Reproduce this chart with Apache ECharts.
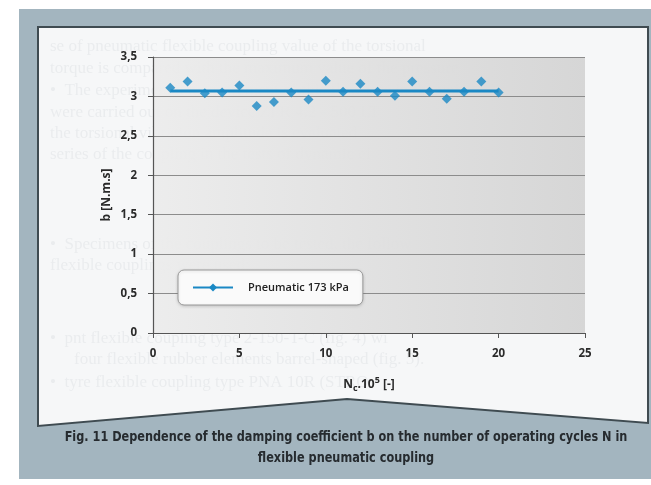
<!DOCTYPE html>
<html>
<head>
<meta charset="utf-8">
<script src="https://cdn.jsdelivr.net/npm/echarts@6/dist/echarts.min.js"></script>
<style>
  html, body { margin: 0; padding: 0; background: #ffffff; }
  #chart { width: 651px; height: 485px; }
</style>
</head>
<body>
<div id="chart"></div>
<script>
// Damping coefficient b measured against the number of operating cycles
const cycles = [1, 2, 3, 4, 5, 6, 7, 8, 9, 10, 11, 12, 13, 14, 15, 16, 17, 18, 19, 20];
const damping = [3.11, 3.19, 3.04, 3.05, 3.14, 2.88, 2.93, 3.05, 2.96, 3.20,
                 3.06, 3.16, 3.06, 3.01, 3.19, 3.06, 2.97, 3.06, 3.19, 3.05];
// Level of the fitted (flat) trend line
const trendLevel = 3.07;
const trendRange = [1, 20];
const seriesName = 'Pneumatic 173 kPa';
const yTicks = ['0', '0,5', '1', '1,5', '2', '2,5', '3', '3,5'];
const captionLines = [
  'Fig. 11 Dependence of the damping coefficient b on the number of operating cycles N in',
  'flexible pneumatic coupling'
];
// Body text of the printed page showing faintly through the figure panel
const pageLines = [
  [50, 47, 'se of pneumatic flexible coupling value of the torsional'],
  [50, 69, 'torque is compared with the maximum value of the pressure'],
  [50, 91, '•  The experimental measurement of this flow rate in the unit'],
  [50, 113, 'were carried out on the device ZFR 4.2 - 500 LT'],
  [50, 134, 'the torsional vibration amplitude is evaluated'],
  [50, 155, 'series of the coupling in the tests of dynamic ef'],
  [50, 245, '•  Specimens of the couplings to be tested, the follow'],
  [50, 266, 'flexible couplings were used:'],
  [50, 339, '•  pnt flexible coupling type 2-150-T-C (fig. 4) wi'],
  [74, 360, 'four flexible rubber elements barrel-shaped (fig. 5).'],
  [50, 383, '•  tyre flexible coupling type PNA 10R (STRO']
];

const chart = echarts.init(document.getElementById('chart'), null, { renderer: 'canvas' });

const uiFont = '"Open Sans", "Noto Sans", sans-serif';
const tickFont = {
  color: '#2a2a2a',
  fontFamily: uiFont,
  fontWeight: 'bold',
  fontSize: 11.5
};

const graphics = [
  // blue-grey mount of the figure
  { type: 'rect', z: -10, shape: { x: 19, y: 9, width: 640, height: 470 },
    style: { fill: '#a3b5bf' } },
  // white panel with chevron bottom edge
  { type: 'polygon', z: -9,
    shape: { points: [[38, 27], [648, 27], [648, 423], [347, 399], [38, 426]] },
    style: { fill: '#f6f7f8', stroke: '#3f4b51', lineWidth: 2 } }
];
pageLines.forEach(function (l) {
  graphics.push({ type: 'text', z: -8, x: l[0], y: l[1],
    style: { text: l[2], fill: 'rgba(120,130,145,0.09)', font: '17px "Liberation Serif", serif',
             textVerticalAlign: 'middle' } });
});
captionLines.forEach(function (t, i) {
  graphics.push({ type: 'text', z: 5, x: 346, y: 437 + i * 21, scaleX: 0.866,
    style: { text: t, fill: '#262b2f', textAlign: 'center', textVerticalAlign: 'middle',
             font: 'bold 14.5px "DejaVu Sans Condensed", "Liberation Sans Narrow", sans-serif' } });
});

chart.setOption({
  animation: false,
  backgroundColor: '#ffffff',
  graphic: graphics,
  grid: {
    left: 153, right: 66, top: 57, bottom: 152,
    show: true,
    borderWidth: 0,
    backgroundColor: {
      type: 'linear', x: 0, y: 0, x2: 1, y2: 0,
      colorStops: [{ offset: 0, color: 'rgba(236,236,236,0.94)' },
                   { offset: 1, color: 'rgba(212,212,212,0.94)' }]
    }
  },
  legend: {
    left: 178, top: 270,
    width: 194, height: 40,
    padding: [12, 14, 12, 14],
    backgroundColor: '#fafafa',
    borderColor: '#9a9a9a',
    borderWidth: 1,
    borderRadius: 6,
    shadowColor: 'rgba(0,0,0,0.15)', shadowBlur: 3, shadowOffsetY: 1,
    itemWidth: 40, itemHeight: 10, itemGap: 0,
    data: [{ name: seriesName }],
    textStyle: { color: '#222', fontSize: 11, fontWeight: 600, fontFamily: uiFont,
                 padding: [0, 0, 0, 10] }
  },
  xAxis: {
    type: 'value', min: 0, max: 25, interval: 5,
    name: '{n|N}{s|c}{n|.10}{p|5}{n| [-]}',
    nameLocation: 'middle', nameGap: 43,
    nameMoveOverlap: false,
    nameTextStyle: {
      rich: {
        n: { fontSize: 12, fontWeight: 'bold', color: '#2a2a2a', fontFamily: uiFont },
        s: { fontSize: 9, fontWeight: 'bold', color: '#2a2a2a', fontFamily: uiFont, padding: [8, 0, 0, 0] },
        p: { fontSize: 9, fontWeight: 'bold', color: '#2a2a2a', fontFamily: uiFont, padding: [0, 0, 8, 0] }
      }
    },
    axisLine: { lineStyle: { color: '#555', width: 1.2 } },
    axisTick: { show: true, length: 5, lineStyle: { color: '#555' } },
    axisLabel: Object.assign({ margin: 15 }, tickFont),
    splitLine: { show: false }
  },
  yAxis: {
    type: 'value', min: 0, max: 3.5, interval: 0.5,
    name: 'b [N.m.s]',
    nameLocation: 'middle', nameGap: 40,
    nameMoveOverlap: false,
    nameTextStyle: { fontSize: 12, fontWeight: 'bold', color: '#2a2a2a', fontFamily: uiFont },
    axisLine: { show: true, lineStyle: { color: '#555', width: 1.2 } },
    axisTick: { show: true, length: 5, lineStyle: { color: '#555' } },
    axisLabel: Object.assign({
      margin: 16,
      formatter: function (v) { return yTicks[Math.round(v / 0.5)]; }
    }, tickFont),
    splitLine: { show: true, lineStyle: { color: '#8c8c8c', width: 1 } }
  },
  series: [
    {
      name: seriesName,
      type: 'line',
      data: trendRange.map(function (x) { return [x, trendLevel]; }),
      symbol: 'diamond', symbolSize: 10, showSymbol: false,
      lineStyle: { color: '#1a88c4', width: 3 },
      itemStyle: { color: '#1a88c4' },
      z: 3
    },
    {
      name: 'points',
      type: 'scatter',
      data: cycles.map(function (x, i) { return [x, damping[i]]; }),
      symbol: 'diamond', symbolSize: 10,
      itemStyle: { color: '#1a88c4' },
      z: 4
    }
  ]
});
</script>
</body>
</html>
